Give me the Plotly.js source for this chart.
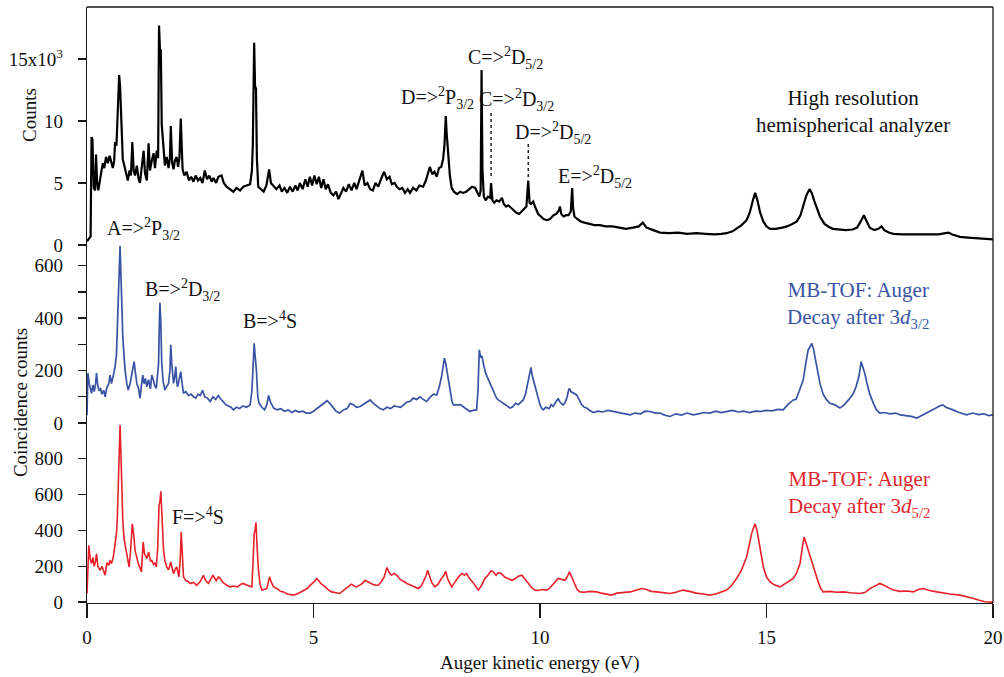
<!DOCTYPE html>
<html>
<head>
<meta charset="utf-8">
<script src="https://cdn.plot.ly/plotly-3.0.1.min.js"></script>
<style>html,body{margin:0;padding:0;background:#fff;}#chart{width:1004px;height:677px;}</style>
</head>
<body>
<div id="chart"></div>
<script>
// ---------- Data ----------
// High resolution hemispherical analyzer: energy (eV) and counts (x10^3)
const hrEnergy = [0.00,0.04,0.08,0.10,0.12,0.15,0.18,0.20,0.22,0.25,0.28,0.32,0.35,0.38,0.42,0.46,0.50,0.54,0.57,0.60,0.62,0.65,0.68,0.71,0.73,0.76,0.79,0.83,0.87,0.90,0.94,0.97,1.00,1.03,1.06,1.10,1.14,1.17,1.20,1.25,1.28,1.32,1.36,1.39,1.43,1.47,1.50,1.54,1.57,1.59,1.61,1.63,1.65,1.67,1.70,1.72,1.76,1.80,1.83,1.85,1.88,1.91,1.94,1.98,2.01,2.04,2.07,2.09,2.11,2.15,2.20,2.25,2.30,2.35,2.40,2.45,2.50,2.55,2.60,2.65,2.70,2.75,2.79,2.85,2.90,2.97,3.02,3.08,3.15,3.23,3.30,3.38,3.45,3.53,3.60,3.64,3.66,3.69,3.71,3.73,3.75,3.78,3.83,3.90,3.96,4.02,4.06,4.12,4.18,4.25,4.30,4.36,4.42,4.48,4.54,4.60,4.65,4.70,4.76,4.82,4.87,4.92,4.97,5.02,5.07,5.12,5.17,5.22,5.27,5.32,5.38,5.44,5.50,5.55,5.60,5.66,5.72,5.78,5.84,5.90,5.95,6.02,6.08,6.13,6.19,6.25,6.31,6.37,6.43,6.50,6.56,6.62,6.68,6.73,6.79,6.84,6.90,6.96,7.02,7.08,7.13,7.20,7.27,7.34,7.42,7.48,7.53,7.57,7.62,7.67,7.72,7.77,7.82,7.86,7.89,7.92,7.94,7.97,8.01,8.05,8.10,8.17,8.24,8.30,8.37,8.44,8.50,8.57,8.62,8.66,8.69,8.71,8.73,8.76,8.80,8.85,8.90,8.92,8.95,8.99,9.04,9.10,9.16,9.20,9.25,9.30,9.36,9.42,9.48,9.54,9.60,9.66,9.70,9.74,9.77,9.80,9.85,9.90,9.96,10.02,10.08,10.15,10.22,10.30,10.36,10.42,10.44,10.47,10.52,10.58,10.63,10.68,10.71,10.73,10.76,10.82,10.90,10.98,11.08,11.20,11.32,11.45,11.60,11.75,11.90,12.05,12.18,12.27,12.35,12.50,12.65,12.85,13.05,13.25,13.45,13.65,13.85,14.00,14.12,14.25,14.34,14.45,14.56,14.63,14.70,14.75,14.80,14.86,14.93,15.00,15.08,15.20,15.35,15.45,15.57,15.67,15.75,15.81,15.88,15.95,16.00,16.05,16.12,16.18,16.28,16.38,16.47,16.60,16.75,16.90,17.00,17.08,17.15,17.20,17.28,17.38,17.47,17.54,17.60,17.70,17.80,18.00,18.20,18.40,18.60,18.80,18.95,19.02,19.10,19.27,19.45,19.65,19.85,20.00];
const hrCountsK = [0.3,0.5,0.7,8.7,8.5,4.6,4.4,7.3,5.2,4.4,5.2,6.0,6.6,6.2,7.1,6.6,7.2,6.6,6.2,6.8,8.3,8.0,10.5,13.7,12.8,10.0,6.9,6.3,5.5,5.2,6.0,5.6,8.3,6.0,5.6,6.4,5.3,5.0,6.0,7.6,5.8,5.2,8.2,6.0,6.8,7.4,6.2,7.6,7.0,17.7,15.8,15.7,9.7,8.5,6.8,6.4,7.1,6.2,7.0,9.6,6.6,6.1,6.8,7.1,6.3,7.0,10.2,7.5,6.1,5.6,5.9,5.2,5.5,5.1,5.6,5.2,5.4,5.0,6.0,5.3,5.6,5.1,5.4,5.0,5.5,5.6,5.0,4.7,4.5,4.3,4.6,4.4,4.7,4.8,4.9,6.0,8.0,16.3,12.8,12.6,7.0,4.7,4.5,4.3,4.8,6.1,5.0,4.7,4.5,4.8,4.3,4.6,4.2,4.7,4.3,4.8,4.4,5.0,4.5,5.3,4.7,5.5,4.8,5.6,4.9,5.5,4.6,5.3,4.5,4.9,4.2,4.0,4.3,3.7,4.1,4.6,4.3,4.9,4.4,5.0,4.5,5.3,6.0,4.8,5.0,4.5,4.4,5.0,4.7,5.4,5.9,5.3,5.5,4.9,5.0,4.7,4.5,4.6,4.2,4.5,4.2,4.6,4.4,4.8,4.7,5.2,5.9,6.3,5.7,5.9,5.5,6.2,6.3,6.9,8.0,10.4,9.0,7.1,5.6,4.6,4.3,4.1,4.3,4.2,4.3,4.5,4.7,4.6,4.2,3.9,4.4,14.1,6.0,3.9,3.6,3.9,3.8,5.0,3.6,3.4,3.6,3.5,3.8,3.3,3.1,3.2,3.0,2.8,2.6,2.5,2.7,2.9,3.1,5.2,3.4,3.3,3.5,3.0,2.5,2.3,2.1,2.0,2.1,2.4,2.5,2.8,3.1,2.5,2.3,2.4,2.4,2.7,4.6,3.0,2.3,2.1,1.9,1.8,1.7,1.6,1.6,1.5,1.5,1.4,1.3,1.4,1.5,1.8,1.4,1.2,1.0,0.95,1.0,0.9,0.95,0.9,0.85,0.9,0.95,1.1,1.3,1.6,2.0,2.6,3.6,4.2,3.6,2.6,1.9,1.5,1.3,1.3,1.4,1.5,1.7,1.9,2.4,3.1,4.0,4.5,4.2,3.6,2.9,2.3,1.7,1.45,1.3,1.25,1.2,1.25,1.4,1.9,2.4,2.0,1.4,1.2,1.3,1.5,1.2,1.0,0.9,0.85,0.85,0.8,0.85,0.85,0.95,1.0,0.85,0.65,0.6,0.55,0.5,0.45];

// MB-TOF, Auger decay after 3d3/2 (coincidence counts)
const d32Energy = [0.00,0.02,0.05,0.08,0.10,0.13,0.16,0.19,0.21,0.24,0.27,0.30,0.33,0.37,0.40,0.44,0.48,0.51,0.54,0.58,0.62,0.65,0.67,0.70,0.73,0.75,0.77,0.79,0.82,0.84,0.88,0.91,0.95,0.99,1.04,1.07,1.10,1.14,1.17,1.20,1.23,1.26,1.29,1.32,1.36,1.40,1.43,1.47,1.50,1.53,1.56,1.58,1.60,1.61,1.63,1.65,1.68,1.72,1.76,1.80,1.83,1.85,1.87,1.91,1.94,1.96,1.98,2.00,2.04,2.07,2.10,2.13,2.18,2.24,2.30,2.35,2.40,2.45,2.50,2.55,2.60,2.66,2.72,2.78,2.84,2.90,2.94,3.00,3.06,3.12,3.18,3.23,3.30,3.37,3.44,3.52,3.60,3.64,3.67,3.69,3.71,3.74,3.77,3.80,3.86,3.92,3.97,4.01,4.05,4.12,4.20,4.28,4.36,4.44,4.52,4.60,4.68,4.76,4.84,4.93,5.00,5.08,5.16,5.24,5.30,5.36,5.44,5.50,5.58,5.66,5.74,5.81,5.88,5.95,6.03,6.10,6.18,6.25,6.32,6.40,6.47,6.54,6.62,6.70,6.78,6.84,6.92,7.00,7.06,7.13,7.20,7.28,7.35,7.42,7.50,7.58,7.65,7.72,7.78,7.83,7.87,7.89,7.92,7.95,7.98,8.02,8.06,8.09,8.16,8.25,8.32,8.40,8.45,8.52,8.60,8.63,8.66,8.69,8.72,8.75,8.80,8.85,8.90,8.95,9.00,9.04,9.08,9.15,9.22,9.28,9.34,9.40,9.46,9.52,9.58,9.63,9.68,9.73,9.77,9.80,9.83,9.86,9.90,9.95,10.00,10.04,10.07,10.13,10.20,10.25,10.29,10.35,10.40,10.44,10.47,10.51,10.56,10.60,10.63,10.65,10.68,10.72,10.76,10.81,10.86,10.92,10.98,11.03,11.10,11.18,11.28,11.38,11.50,11.62,11.75,11.88,11.99,12.10,12.22,12.32,12.43,12.55,12.65,12.75,12.87,13.00,13.12,13.25,13.38,13.50,13.62,13.75,13.88,14.00,14.12,14.25,14.38,14.50,14.62,14.75,14.86,15.00,15.12,15.25,15.37,15.47,15.59,15.65,15.72,15.81,15.87,15.92,15.96,16.00,16.04,16.07,16.12,16.18,16.25,16.32,16.40,16.50,16.62,16.72,16.82,16.92,16.98,17.04,17.09,17.12,17.17,17.22,17.28,17.36,17.43,17.50,17.60,17.72,17.85,17.95,18.08,18.20,18.32,18.45,18.55,18.61,18.72,18.82,18.90,18.96,19.05,19.12,19.25,19.35,19.42,19.55,19.68,19.80,19.90,20.00];
const d32Counts = [30,190,150,130,113,145,120,150,190,140,125,130,110,125,100,135,150,183,150,180,215,260,355,520,676,560,420,330,250,202,150,126,150,190,234,190,151,130,94,140,183,150,170,138,165,130,183,160,140,132,180,227,400,459,380,227,160,126,140,151,200,298,230,151,180,215,160,138,170,196,150,113,120,105,110,100,95,110,105,125,100,95,82,100,90,105,94,80,70,65,60,50,60,55,65,60,69,120,250,304,260,200,100,75,60,50,70,105,80,57,50,55,45,50,40,48,42,45,38,38,45,55,65,75,85,75,60,45,38,50,55,75,70,60,63,70,80,88,75,65,55,50,60,55,65,63,60,70,80,82,95,90,100,90,82,100,110,107,140,180,230,247,225,190,164,110,80,69,70,69,60,50,44,48,50,120,279,250,255,227,190,170,151,130,110,95,88,80,70,62,57,62,75,70,80,88,110,150,190,212,180,160,138,100,70,55,50,60,55,70,63,80,94,80,75,69,80,100,125,132,120,115,110,107,90,70,60,57,48,40,45,42,48,44,40,35,31,38,35,45,44,38,38,30,25,35,30,38,31,35,40,38,45,40,44,48,42,45,40,45,44,48,46,52,50,70,88,90,120,164,230,279,290,304,280,253,200,151,110,90,75,70,57,70,90,113,140,177,234,220,189,150,110,75,50,38,40,35,38,31,28,25,19,30,38,44,55,65,69,60,55,50,40,35,31,38,32,35,28,31];

// MB-TOF, Auger decay after 3d5/2 (coincidence counts)
const d52Energy = [0.00,0.02,0.04,0.07,0.10,0.13,0.16,0.19,0.21,0.24,0.27,0.29,0.33,0.37,0.40,0.44,0.48,0.51,0.54,0.58,0.62,0.65,0.67,0.70,0.73,0.75,0.77,0.79,0.82,0.86,0.90,0.93,0.96,1.00,1.03,1.06,1.10,1.13,1.17,1.20,1.24,1.27,1.32,1.36,1.40,1.43,1.47,1.50,1.53,1.56,1.59,1.61,1.63,1.66,1.69,1.72,1.76,1.80,1.85,1.88,1.91,1.94,1.98,2.03,2.06,2.08,2.10,2.13,2.18,2.23,2.28,2.35,2.42,2.50,2.57,2.62,2.68,2.73,2.78,2.85,2.90,2.94,3.00,3.08,3.16,3.24,3.32,3.40,3.45,3.52,3.58,3.64,3.67,3.69,3.71,3.73,3.75,3.78,3.82,3.86,3.92,3.97,4.03,4.07,4.12,4.20,4.27,4.34,4.42,4.50,4.56,4.64,4.72,4.80,4.86,4.93,5.00,5.07,5.12,5.18,5.26,5.32,5.40,5.48,5.58,5.66,5.74,5.84,5.90,5.95,6.02,6.08,6.14,6.22,6.30,6.36,6.43,6.50,6.56,6.62,6.67,6.72,6.78,6.84,6.92,7.00,7.06,7.14,7.22,7.31,7.38,7.44,7.49,7.52,7.56,7.61,7.68,7.75,7.82,7.88,7.92,7.96,8.02,8.05,8.12,8.20,8.28,8.33,8.38,8.45,8.52,8.58,8.64,8.70,8.78,8.85,8.92,8.97,9.03,9.08,9.15,9.22,9.30,9.38,9.45,9.52,9.60,9.66,9.74,9.82,9.89,9.96,10.05,10.15,10.22,10.30,10.36,10.40,10.48,10.55,10.60,10.65,10.70,10.76,10.82,10.88,10.98,11.10,11.25,11.35,11.45,11.58,11.70,11.85,11.99,12.10,12.24,12.35,12.45,12.58,12.70,12.87,13.00,13.16,13.30,13.45,13.60,13.75,13.88,14.00,14.12,14.22,14.34,14.45,14.56,14.62,14.67,14.72,14.75,14.79,14.82,14.88,14.93,15.00,15.08,15.18,15.30,15.40,15.50,15.59,15.66,15.74,15.80,15.83,15.86,15.89,15.94,16.00,16.07,16.14,16.20,16.25,16.40,16.55,16.70,16.85,17.06,17.18,17.28,17.36,17.45,17.50,17.58,17.70,17.80,17.95,18.10,18.24,18.35,18.46,18.60,18.76,18.90,19.05,19.27,19.45,19.57,19.70,19.82,20.00];
const d52Counts = [48,252,317,240,215,250,200,230,270,200,190,178,200,170,150,220,205,233,215,250,326,380,474,760,989,820,600,456,350,289,220,196,280,437,380,289,250,215,190,169,336,270,243,280,230,233,210,220,196,300,539,560,619,400,289,230,196,180,224,190,159,180,196,141,250,391,250,141,120,115,104,110,94,115,150,120,104,130,150,120,140,132,110,95,85,90,85,100,104,95,90,85,250,381,400,446,330,196,100,67,72,76,141,110,85,75,60,57,45,42,39,45,55,65,76,95,110,132,115,100,85,70,57,52,48,65,80,100,90,85,95,105,122,110,100,95,94,115,140,193,165,150,160,150,125,115,104,95,85,76,90,120,150,178,150,110,85,100,130,150,172,130,100,85,110,141,160,150,159,130,110,85,67,90,130,150,175,169,150,165,159,140,130,122,130,145,150,130,100,80,67,65,70,67,80,100,120,132,125,122,140,169,140,100,70,57,55,60,57,50,45,39,50,55,57,65,76,70,60,57,52,48,55,67,60,50,45,39,45,55,67,90,132,180,252,320,381,420,437,400,363,270,196,140,113,95,85,100,115,132,160,215,320,363,340,317,280,233,170,113,75,57,60,55,57,52,48,55,75,85,95,104,95,80,67,60,62,57,70,76,65,57,50,45,39,30,20,10,2,0];

// Axis tick values and labels
const xTicks = [0, 5, 10, 15, 20];
const topTickVals = [0, 5000, 10000, 15000];
const topTickText = ["0", "5", "10", "15x10<sup>3</sup>"];
const midTickVals = [0, 100, 200, 300, 400, 500, 600];
const midTickText = ["0", "", "200", "", "400", "", "600"];
const lowTickVals = [0, 200, 400, 600, 800];
const lowTickText = ["0", "200", "400", "600", "800"];

// ---------- Drawing ----------
const FONT = "Liberation Serif, Times New Roman, serif";
const AX = "#1a1a1a";
const BLUE = "#3953a4";
const RED = "#e8202a";

const traces = [
  {x: hrEnergy, y: hrCountsK.map(v => v * 1000), yaxis: "y3", type: "scatter", mode: "lines",
   line: {color: "#000000", width: 2.2}, hoverinfo: "skip"},
  {x: d32Energy, y: d32Counts, yaxis: "y2", type: "scatter", mode: "lines",
   line: {color: BLUE, width: 1.7}, hoverinfo: "skip"},
  {x: d52Energy, y: d52Counts, yaxis: "y", type: "scatter", mode: "lines",
   line: {color: RED, width: 1.6}, hoverinfo: "skip"}
];

const yCommon = {
  ticks: "outside", ticklen: 8, tickwidth: 1.3, tickcolor: AX,
  showline: true, linecolor: AX, linewidth: 1.3, showgrid: false, zeroline: false,
  tickfont: {family: FONT, size: 19, color: "#111"}, ticklabelstandoff: 11,
  anchor: "x", fixedrange: true
};

const lab = (t, x, yref, y, color, size) => ({
  text: t, x: x, xref: "x", y: y, yref: yref, showarrow: false,
  xanchor: "center", yanchor: "middle",
  font: {family: FONT, size: size || 20, color: color || "#111"}
});

const annotations = [
  lab("A=&gt;<sup>2</sup>P<sub>3/2</sub>", 1.24, "y3", 1300),
  lab("D=&gt;<sup>2</sup>P<sub>3/2</sub>", 7.74, "y3", 11850),
  lab("C=&gt;<sup>2</sup>D<sub>5/2</sub>", 9.23, "y3", 15080),
  lab("C=&gt;<sup>2</sup>D<sub>3/2</sub>", 9.49, "y3", 11700),
  lab("D=&gt;<sup>2</sup>D<sub>5/2</sub>", 10.28, "y3", 9030),
  lab("E=&gt;<sup>2</sup>D<sub>5/2</sub>", 11.21, "y3", 5480),
  lab("High resolution<br>hemispherical analyzer", 16.91, "y3", 10730, "#111", 21),
  lab("B=&gt;<sup>2</sup>D<sub>3/2</sub>", 2.11, "y2", 508),
  lab("B=&gt;<sup>4</sup>S", 4.04, "y2", 393),
  lab("MB-TOF: Auger<br>Decay after 3<i>d</i><sub>3/2</sub>", 17.02, "y2", 450, BLUE, 21),
  lab("F=&gt;<sup>4</sup>S", 2.44, "y", 480),
  lab("MB-TOF: Auger<br>Decay after 3<i>d</i><sub>5/2</sub>", 17.05, "y", 606, "#e0262e", 21),
  {text: "Counts", xref: "paper", yref: "paper", x: -0.0629, y: 0.8188, textangle: -90,
   showarrow: false, xanchor: "center", yanchor: "middle", font: {family: FONT, size: 19, color: "#111"}},
  {text: "Coincidence counts", xref: "paper", yref: "paper", x: -0.074, y: 0.337, textangle: -90,
   showarrow: false, xanchor: "center", yanchor: "middle", font: {family: FONT, size: 19, color: "#111"}},
  {text: "Auger kinetic energy (eV)", xref: "paper", yref: "paper", x: 0.5, y: -0.1,
   showarrow: false, xanchor: "center", yanchor: "middle", font: {family: FONT, size: 19, color: "#111"}}
];

const shapes = [
  {type: "line", xref: "paper", yref: "paper", x0: 0, x1: 1, y0: 1, y1: 1, line: {color: AX, width: 1.3}},
  {type: "line", xref: "paper", yref: "paper", x0: 1, x1: 1, y0: 0, y1: 1, line: {color: AX, width: 1.3}},
  {type: "line", xref: "x", yref: "y3", x0: 8.92, x1: 8.92, y0: 10650, y1: 5480, line: {color: "#000", width: 1.3, dash: "dot"}},
  {type: "line", xref: "x", yref: "y3", x0: 9.74, x1: 9.74, y0: 8150, y1: 5480, line: {color: "#000", width: 1.3, dash: "dot"}}
];

const layout = {
  width: 1004, height: 677,
  margin: {l: 87, r: 11, t: 7, b: 74, pad: 0},
  paper_bgcolor: "#ffffff", plot_bgcolor: "#ffffff",
  showlegend: false,
  font: {family: FONT, color: "#111"},
  xaxis: {
    range: [0, 20], domain: [0, 1], anchor: "y",
    tickvals: xTicks, ticktext: xTicks.map(String),
    ticks: "outside", ticklen: 14, tickwidth: 1.3, tickcolor: AX,
    showline: true, linecolor: AX, linewidth: 1.3, showgrid: false, zeroline: false,
    tickfont: {family: FONT, size: 19, color: "#111"}, ticklabelstandoff: 3, fixedrange: true
  },
  yaxis: Object.assign({}, yCommon, {domain: [0, 0.302], range: [-5, 1000],
    tickvals: lowTickVals, ticktext: lowTickText}),
  yaxis2: Object.assign({}, yCommon, {domain: [0.302, 0.6007], range: [0, 679],
    tickvals: midTickVals, ticktext: midTickText}),
  yaxis3: Object.assign({}, yCommon, {domain: [0.6007, 1], range: [0, 19190],
    tickvals: topTickVals, ticktext: topTickText}),
  annotations: annotations,
  shapes: shapes
};

Plotly.newPlot("chart", traces, layout, {staticPlot: true, displayModeBar: false});
</script>
</body>
</html>
